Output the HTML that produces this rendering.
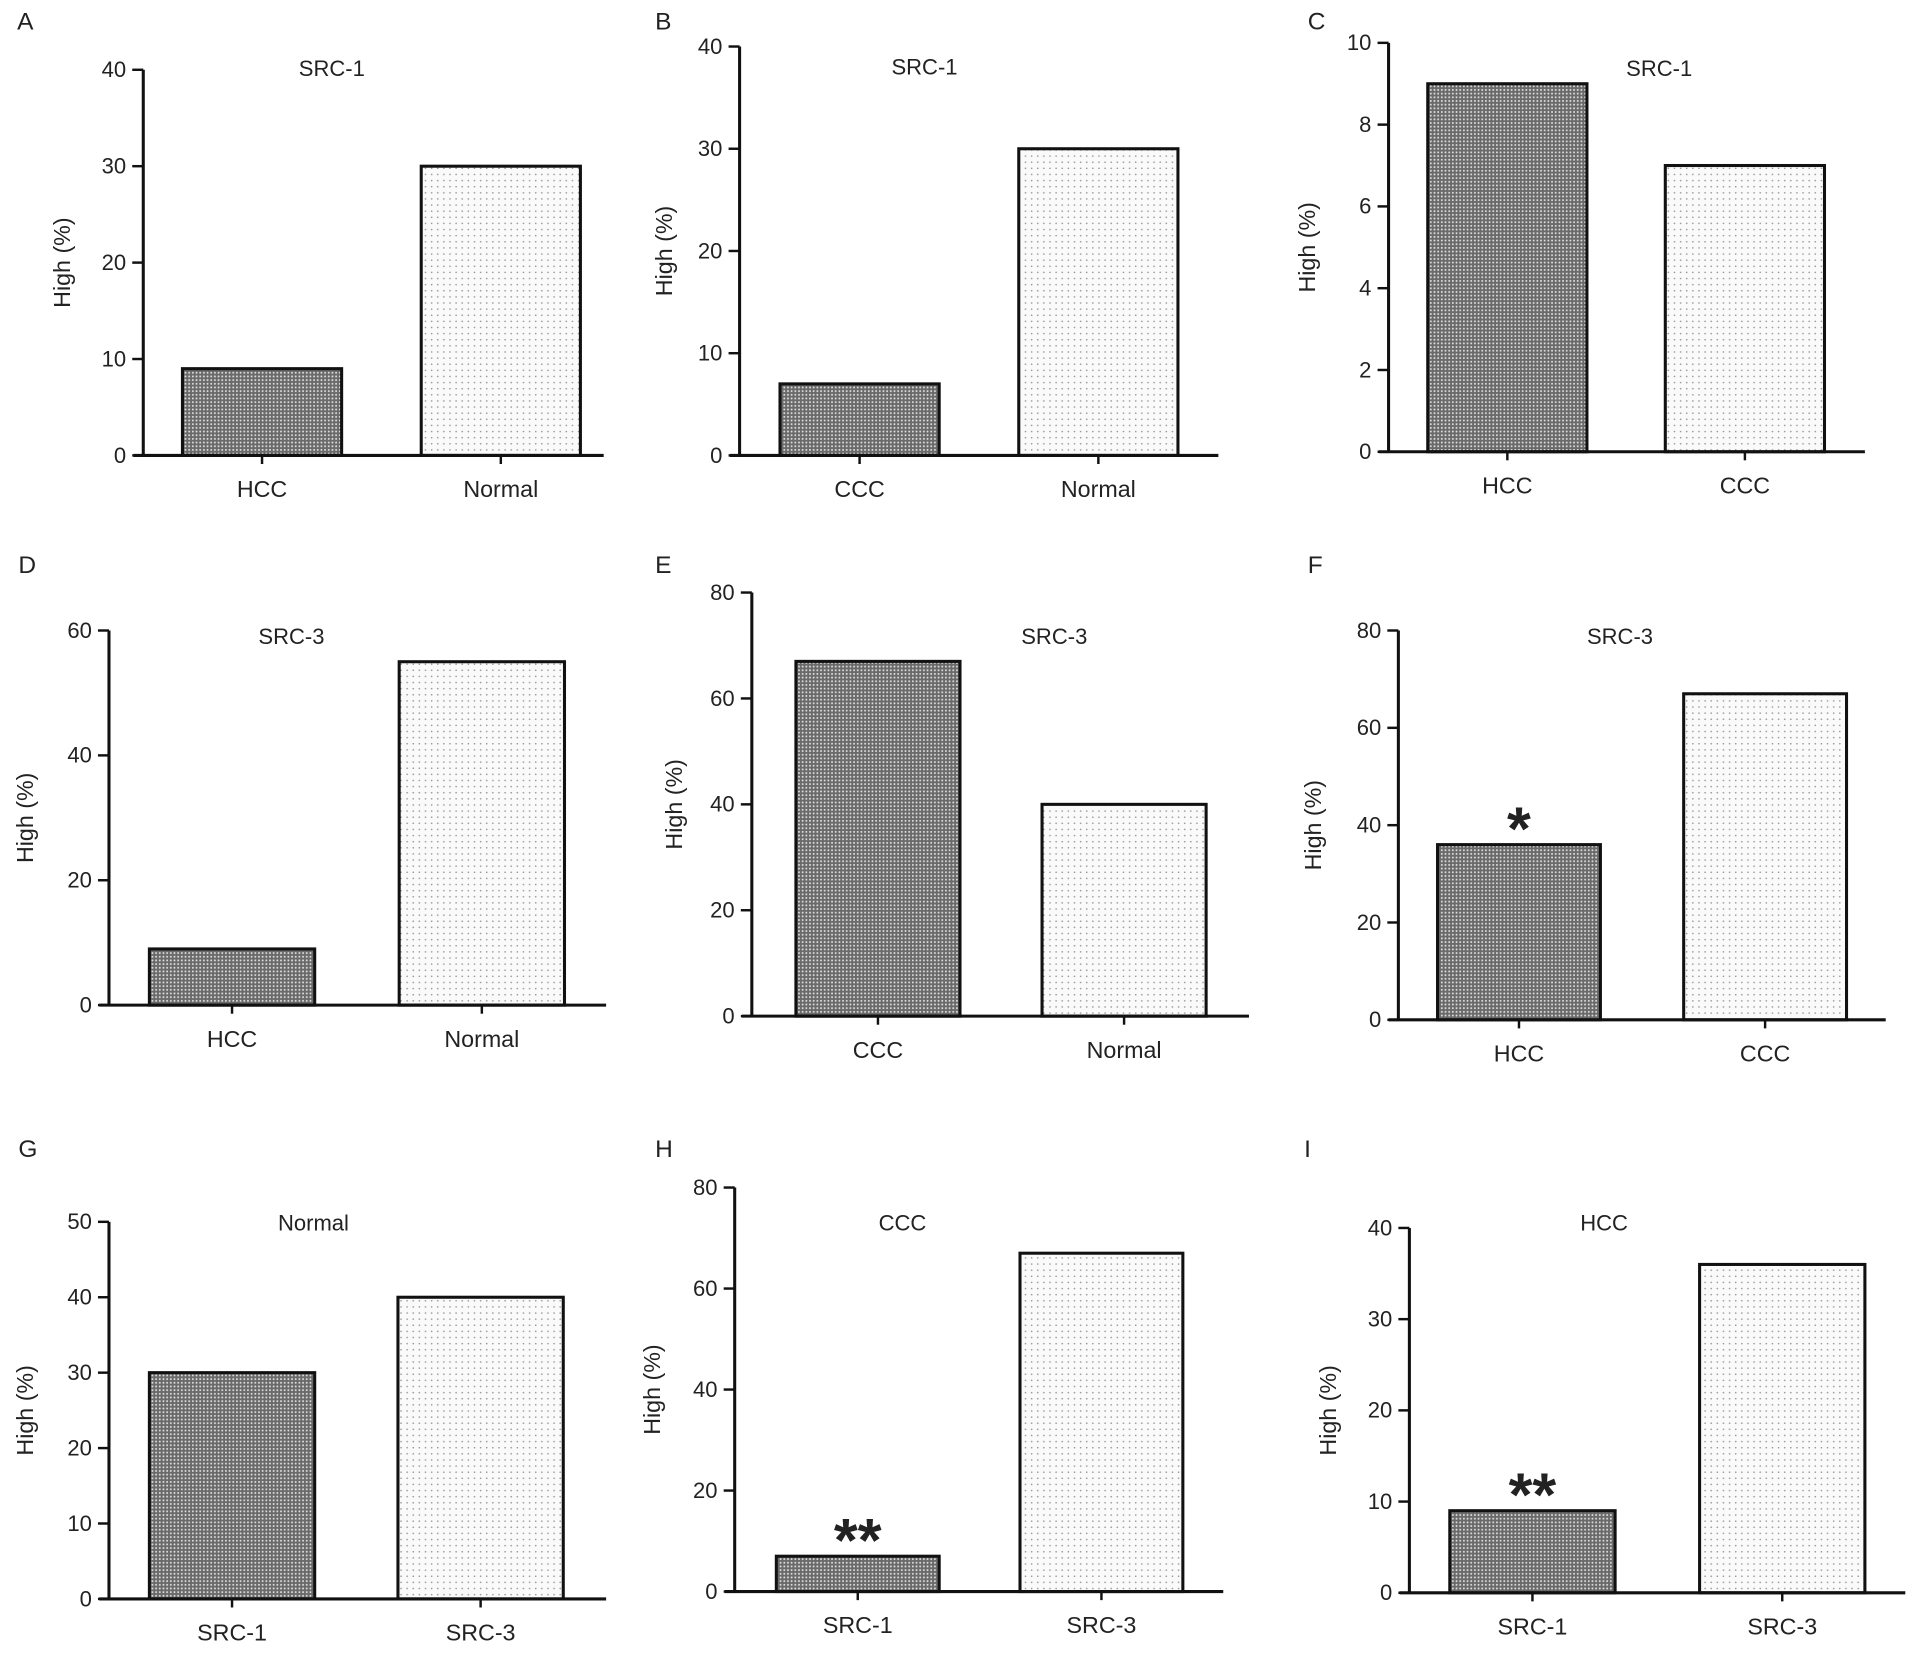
<!DOCTYPE html>
<html><head><meta charset="utf-8"><style>
html,body{margin:0;padding:0;background:#fff}
svg{display:block}
text{font-family:"Liberation Sans",Arial,sans-serif;fill:#222}
</style></head>
<body>
<svg id="fig" width="1920" height="1654" viewBox="0 0 1568 1351" preserveAspectRatio="none" xmlns="http://www.w3.org/2000/svg">
<defs>
<pattern id="dark" width="3" height="3" patternUnits="userSpaceOnUse">
<rect width="3" height="3" fill="#6a6a6a"/><circle cx="1.5" cy="1.5" r="0.8" fill="#dcdcdc"/>
</pattern>
<pattern id="light" width="5" height="5" patternUnits="userSpaceOnUse">
<rect width="5" height="5" fill="#fafafa"/><circle cx="2.5" cy="2.5" r="0.7" fill="#9a9a9a"/>
</pattern>
</defs>
</svg>
<script>
const panelLetters = ["A","B","C","D","E","F","G","H","I"];
const panelTitles = ["SRC-1","SRC-1","SRC-1","SRC-3","SRC-3","SRC-3","Normal","CCC","HCC"];
const categoriesA = ["HCC","Normal"];
const categoriesB = ["CCC","Normal"];
const categoriesC = ["HCC","CCC"];
const categoriesD = ["HCC","Normal"];
const categoriesE = ["CCC","Normal"];
const categoriesF = ["HCC","CCC"];
const categoriesG = ["SRC-1","SRC-3"];
const categoriesH = ["SRC-1","SRC-3"];
const categoriesI = ["SRC-1","SRC-3"];
const valuesA = [9,30];
const valuesB = [7,30];
const valuesC = [9,7];
const valuesD = [9,55];
const valuesE = [67,40];
const valuesF = [36,67];
const valuesG = [30,40];
const valuesH = [7,67];
const valuesI = [9,36];
const yMaxes = [40,40,10,60,80,80,50,80,40];
const yStep = [10,10,2,20,20,20,10,20,10];
const stars = ["","","","","","*","","**","**"];

const cats=[categoriesA,categoriesB,categoriesC,categoriesD,categoriesE,categoriesF,categoriesG,categoriesH,categoriesI];
const vals=[valuesA,valuesB,valuesC,valuesD,valuesE,valuesF,valuesG,valuesH,valuesI];
const L=[
[117,57,372,493,149,344,130,14,24,271,62,52],
[604,38,372,995,637,832,130,535,24,755,61,544],
[1134,35,369,1523,1166,1360,130,1068,24,1355,62,1069],
[89,515,821,495,122,326,135,15,468,238,526,22],
[614,484,830,1020,650,851,134,535,468,861,526,552],
[1142,515,833,1540,1174,1375,133,1068,468,1323,526,1074],
[89,998,1306,495,122,325,135,15,945,256,1005,22],
[600,970,1300,999,634,833,133,535,945,737,1005,534],
[1151,1003,1301,1556,1184,1388,135,1065,945,1310,1005,1086]];
const svg=document.getElementById('fig');
const NS="http://www.w3.org/2000/svg";
function mk(t,a,p){const e=document.createElementNS(NS,t);for(const k in a)e.setAttribute(k,a[k]);(p||svg).appendChild(e);return e;}
for(let i=0;i<9;i++){
 const [ax,top,bot,end,b1,b2,bw,lx,ly,tx,ty,ylx]=L[i];
 const g=mk('g',{});
 
 
 const y=v=>bot-(v/yMaxes[i])*(bot-top);
 let t=mk('text',{x:lx,y:ly,'font-size':20},g);t.textContent=panelLetters[i];
 
 t=mk('text',{x:tx,y:ty,'font-size':18,'text-anchor':'middle'},g);t.textContent=panelTitles[i];
 
 const cy=(top+bot)/2;
 t=mk('text',{x:ylx,y:cy,'font-size':19,'text-anchor':'middle',transform:`rotate(-90 ${ylx} ${cy})`,'dominant-baseline':'middle'},g);t.textContent='High (%)';
 
 const bx=[b1,b2];
 for(let j=0;j<2;j++){
  const r=mk('rect',{x:bx[j],y:y(vals[i][j]),width:bw,height:bot-y(vals[i][j]),fill:j==0?'url(#dark)':'url(#light)',stroke:'#111','stroke-width':2.5},g);
  
  
  const cx=bx[j]+bw/2;
  mk('line',{x1:cx,x2:cx,y1:bot,y2:bot+7,stroke:'#111','stroke-width':2},g);
  t=mk('text',{x:cx,y:bot+34,'font-size':19,'text-anchor':'middle'},g);t.textContent=cats[i][j];
  
  if(j==0&&stars[i]){
   t=mk('text',{x:cx,y:y(vals[i][j])+4,'font-size':50,'font-weight':'bold','text-anchor':'middle','fill':'#111'},g);
   t.textContent=stars[i];
   
  }
 }
 mk('line',{x1:ax,x2:ax,y1:top,y2:bot+1,stroke:'#111','stroke-width':2.5},g);
 mk('line',{x1:ax-8,x2:end,y1:bot,y2:bot,stroke:'#111','stroke-width':2.5},g);
 for(let v=0;v<=yMaxes[i];v+=yStep[i]){
  mk('line',{x1:ax-9,x2:ax,y1:y(v),y2:y(v),stroke:'#111','stroke-width':2},g);
  t=mk('text',{x:ax-14,y:y(v)+6,'font-size':18,'text-anchor':'end'},g);t.textContent=v;
  
 }
}
</script>
</body></html>
